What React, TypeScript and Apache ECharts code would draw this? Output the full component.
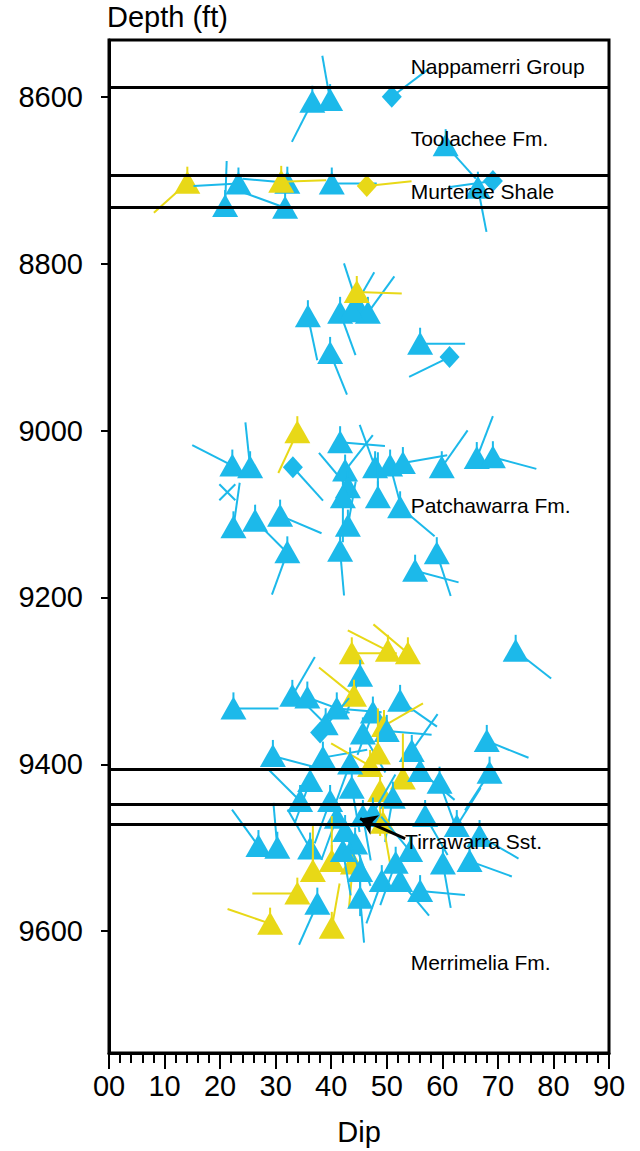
import React, { useEffect, useRef } from "react";
import * as echarts from "echarts";

// ---- Axis ticks ----
const depthTicks = [8600, 8800, 9000, 9200, 9400, 9600];
const dipTicks = [0, 10, 20, 30, 40, 50, 60, 70, 80, 90];

// ---- Formation tops (ft) ----
const formationTops = [8589, 8694, 8732, 9406, 9448, 9472];

// ---- Formation labels ----
const formationNames = ["Nappamerri Group", "Toolachee Fm.", "Murteree Shale", "Patchawarra Fm.", "Tirrawarra Sst.", "Merrimelia Fm."];
const formationLabelDip = [54.3, 54.3, 54.3, 54.3, 53.3, 54.3];
const formationLabelDepth = [8564, 8650, 8714, 9090, 9493, 9638];

// ---- Arrow (Tirrawarra) ----
const arrowFrom = [53.3, 9489];
const arrowTo = [45.2, 9465];

// ---- Tadpoles: dip (deg), depth (ft), azimuth (deg, -1 = none), colour, shape ----
const tadDip = [
  36.6, 39.8, 50.9, 60.6, 66.4, 69.1,
  14.1, 23.3, 20.9, 32.1, 31.7, 31.0, 40.1, 46.4,
  35.8, 39.8, 41.6, 44.8, 46.6, 43.7, 44.6, 56.0, 61.3,
  33.9, 33.1, 22.2, 25.4, 22.4, 26.3, 30.8, 32.1, 41.6, 42.5, 43.0, 42.1, 43.0, 41.6,
  47.9, 50.6, 52.4, 48.4, 52.9, 59.9, 66.2, 69.1, 59.0, 55.1, 21.3,
  43.7, 50.2, 53.8, 73.2, 45.2, 33.0, 22.4, 35.7, 44.1, 41.0, 47.5, 52.4, 49.5, 38.0,
  45.7, 50.0, 54.5, 68.0, 29.5, 38.5, 48.4, 52.9, 47.0, 43.4, 68.5,
  36.2, 43.7, 48.8, 59.5, 51.1, 41.0, 45.7, 47.5, 49.3, 62.6, 26.9, 30.3, 36.2,
  36.7, 40.1, 43.9, 42.1, 44.3, 54.2, 33.9, 29.0, 40.1, 45.2, 37.5, 49.1, 52.4, 56.0, 60.1, 66.7,
  39.8, 42.5, 56.9, 64.9, 51.6, 34.4, 45.2, 56.0, 39.0,
];
const tadDepth = [
  8606, 8604, 8600, 8658, 8709, 8701,
  8703, 8704, 8731, 8703, 8733, 8702, 8704, 8707,
  8863, 8907, 8859, 8851, 8859, 8857, 8834, 8896, 8912,
  9002, 9044, 9042, 9044, 9116, 9108, 9102, 9146, 9014, 9048, 9068, 9080, 9114, 9144,
  9044, 9042, 9092, 9080, 9039, 9044, 9033, 9032, 9147, 9168, 9074,
  9267, 9264, 9267, 9264, 9294, 9318, 9333, 9320, 9318, 9333, 9338, 9324, 9354, 9362,
  9363, 9360, 9384, 9372, 9390, 9392, 9387, 9417, 9402, 9399, 9410,
  9420, 9428, 9432, 9422, 9440, 9464, 9462, 9459, 9470, 9474, 9498, 9500, 9501,
  9528, 9516, 9519, 9504, 9495, 9504, 9555, 9591, 9596, 9560, 9567, 9540, 9540, 9552, 9519, 9486,
  9444, 9480, 9462, 9516, 9518, 9444, 9528, 9408, 9352,
];
const tadAzimuth = [
  207, 350, 53, 138, 169, 262,
  228, 267, 2, 275, 290, 88, 90, 84,
  168, 158, 160, 342, 36, 30, 92, 90, 244,
  205, 138, 297, 354, 8, 135, 113, 200, 95, 38, 320, 180, 10, 175,
  340, 165, 130, 0, 80, 35, 21, 105, 162, 105, -1,
  90, 297, 310, 128, 200, 30, 90, 110, 309, 95, 200, 125, 60, 40,
  150, 95, 35, 112, 105, 80, 0, 0, 300, 200, 213,
  200, 170, 180, 160, 190, 200, 170, 30, 170, 32, 324, 355, 330,
  0, 0, 185, 170, 160, 320, 270, 289, 10, 175, 204, 200, 140, 95, 170, 120,
  200, 160, 150, 110, 200, 315, 180, 130, 315,
];
const tadColor = [
  "b", "b", "b", "b", "b", "b",
  "y", "b", "b", "b", "b", "y", "b", "y",
  "b", "b", "b", "b", "b", "b", "y", "b", "b",
  "y", "b", "b", "b", "b", "b", "b", "b", "b", "b", "b", "b", "b", "b",
  "b", "b", "b", "b", "b", "b", "b", "b", "b", "b", "b",
  "y", "y", "y", "b", "b", "b", "b", "b", "y", "b", "b", "b", "y", "b",
  "b", "b", "b", "b", "b", "b", "y", "y", "y", "b", "b",
  "b", "b", "y", "b", "b", "b", "b", "b", "y", "b", "b", "b", "b",
  "y", "y", "y", "b", "b", "b", "y", "y", "y", "b", "b", "b", "b", "b", "b", "b",
  "b", "b", "b", "b", "b", "b", "b", "b", "b",
];
const tadShape = [
  "t", "t", "d", "t", "t", "d",
  "t", "t", "t", "t", "t", "t", "t", "d",
  "t", "t", "t", "t", "t", "t", "t", "t", "d",
  "t", "d", "t", "t", "t", "t", "t", "t", "t", "t", "t", "t", "t", "t",
  "t", "t", "t", "t", "t", "t", "t", "t", "t", "t", "x",
  "t", "t", "t", "t", "t", "t", "t", "t", "t", "t", "t", "t", "t", "d",
  "t", "t", "t", "t", "t", "t", "t", "t", "t", "t", "t",
  "t", "t", "t", "t", "t", "t", "t", "t", "t", "t", "t", "t", "t",
  "t", "t", "t", "t", "t", "t", "t", "t", "t", "t", "t", "t", "t", "t", "t", "t",
  "t", "t", "t", "t", "t", "t", "t", "t", "t",
];

const BLUE = "#1cb9ea";
const YELLOW = "#e8d817";
const FONT = "'Liberation Sans', Arial, sans-serif";
const TAIL = 45;

export default function App() {
  const ref = useRef<HTMLDivElement>(null);

  useEffect(() => {
    document.body.style.margin = "0";
    const chart = echarts.init(ref.current!, null, { renderer: "svg" });

    const tadData = tadDip.map((d, i) => [d, tadDepth[i], tadAzimuth[i], i]);
    const labelData = formationNames.map((n, i) => [formationLabelDip[i], formationLabelDepth[i], i]);

    const renderTadpole = (params: any, api: any) => {
      const i = api.value(3);
      const p = api.coord([api.value(0), api.value(1)]);
      const px = p[0];
      const py = p[1];
      const az = api.value(2);
      const color = tadColor[i] === "y" ? YELLOW : BLUE;
      const shape = tadShape[i];
      const children: any[] = [];
      if (az >= 0) {
        const r = (az * Math.PI) / 180;
        children.push({
          type: "line",
          shape: { x1: px, y1: py, x2: px + TAIL * Math.sin(r), y2: py - TAIL * Math.cos(r) },
          style: { stroke: color, lineWidth: 2 },
        });
      }
      if (shape === "t") {
        children.push({
          type: "polygon",
          shape: { points: [[px, py - 12], [px + 13, py + 11], [px - 13, py + 11]] },
          style: { fill: color },
        });
        children.push({
          type: "line",
          shape: { x1: px, y1: py - 16, x2: px, y2: py - 10 },
          style: { stroke: color, lineWidth: 2 },
        });
      } else if (shape === "d") {
        children.push({
          type: "polygon",
          shape: { points: [[px, py - 11], [px + 10, py], [px, py + 11], [px - 10, py]] },
          style: { fill: color },
        });
      } else {
        children.push({
          type: "line",
          shape: { x1: px - 8, y1: py - 8, x2: px + 8, y2: py + 8 },
          style: { stroke: color, lineWidth: 2 },
        });
        children.push({
          type: "line",
          shape: { x1: px - 8, y1: py + 8, x2: px + 8, y2: py - 8 },
          style: { stroke: color, lineWidth: 2 },
        });
      }
      return { type: "group", children };
    };

    const renderLabel = (params: any, api: any) => {
      const i = api.value(2);
      const p = api.coord([api.value(0), api.value(1)]);
      return {
        type: "text",
        x: p[0],
        y: p[1],
        style: {
          text: formationNames[i],
          fill: "#000",
          font: `21px ${FONT}`,
          align: "left",
          verticalAlign: "middle",
        },
      };
    };

    chart.setOption({
      animation: false,
      backgroundColor: "#fff",
      grid: {
        left: 109,
        right: 31,
        top: 40,
        bottom: 98,
        show: true,
        borderColor: "#000",
        borderWidth: 3,
        containLabel: false,
      },
      xAxis: {
        type: "value",
        min: 0,
        max: 90,
        interval: 10,
        name: "Dip",
        nameLocation: "middle",
        nameGap: 64,
        nameTextStyle: { fontSize: 29, fontFamily: FONT, color: "#000" },
        axisLine: { show: true, lineStyle: { color: "#000", width: 3 } },
        axisTick: { show: true, length: 16, lineStyle: { color: "#000", width: 2 } },
        minorTick: { show: true, splitNumber: 5, length: 10, lineStyle: { color: "#000", width: 2 } },
        axisLabel: {
          fontSize: 29,
          fontFamily: FONT,
          color: "#000",
          margin: 18,
          formatter: (v: number) => (v === 0 ? "00" : String(v)),
          customValues: dipTicks,
        },
        splitLine: { show: false },
        minorSplitLine: { show: false },
      },
      yAxis: {
        type: "value",
        inverse: true,
        min: 8532,
        max: 9746,
        axisLine: { show: true, lineStyle: { color: "#000", width: 3 } },
        axisTick: { show: true, length: 8, lineStyle: { color: "#000", width: 2 }, customValues: depthTicks },
        axisLabel: {
          fontSize: 29,
          fontFamily: FONT,
          color: "#000",
          margin: 26,
          customValues: depthTicks,
          formatter: (v: number) => String(v),
        },
        splitLine: { show: false },
      },
      graphic: [
        {
          type: "text",
          left: 107,
          top: 2,
          style: { text: "Depth (ft)", font: `29px ${FONT}`, fill: "#000" },
        },
      ],
      series: [
        {
          type: "line",
          data: [],
          silent: true,
          markLine: {
            silent: true,
            symbol: ["none", "none"],
            label: { show: false },
            lineStyle: { color: "#000", width: 3, type: "solid" },
            data: formationTops.map((d) => ({ yAxis: d })),
          },
        },
        {
          type: "custom",
          renderItem: renderTadpole,
          data: tadData,
          encode: { x: 0, y: 1 },
          silent: true,
          z: 3,
        },
        {
          type: "custom",
          renderItem: renderLabel,
          data: labelData,
          encode: { x: 0, y: 1 },
          silent: true,
          z: 5,
        },
        {
          type: "line",
          data: [],
          silent: true,
          z: 6,
          markLine: {
            silent: true,
            symbol: ["none", "arrow"],
            symbolSize: 16,
            label: { show: false },
            lineStyle: { color: "#000", width: 3, type: "solid" },
            data: [[{ coord: arrowFrom }, { coord: arrowTo }]],
          },
        },
      ],
    });

    return () => chart.dispose();
  }, []);

  return (
    <div
      ref={ref}
      style={{ width: 640, height: 1151, position: "absolute", left: 0, top: 0, background: "#fff" }}
    />
  );
}
